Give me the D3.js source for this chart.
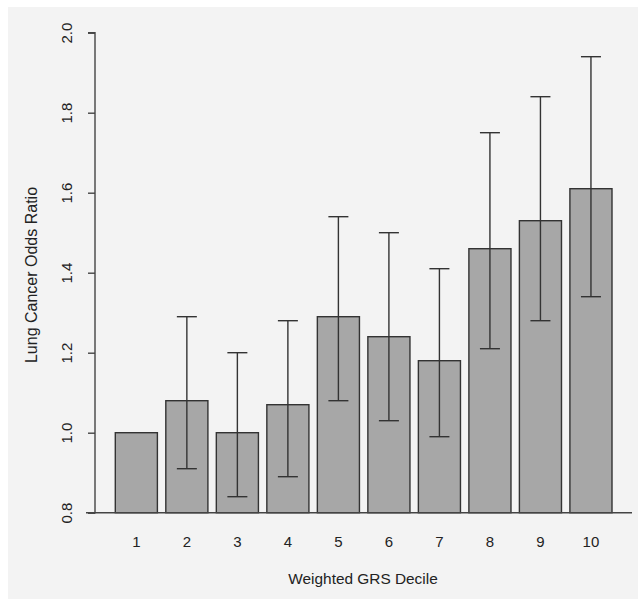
<!DOCTYPE html>
<html>
<head>
<meta charset="utf-8">
<script src="https://cdn.jsdelivr.net/npm/d3@7"></script>
<style>
  html, body { margin: 0; padding: 0; background: #ffffff; }
  svg { display: block; }
  text { font-family: "Liberation Sans", Arial, sans-serif; fill: #222; }
</style>
</head>
<body>
<svg id="chart" width="638" height="599"></svg>
<script>
const categories = ["1", "2", "3", "4", "5", "6", "7", "8", "9", "10"];
const oddsRatio = [1.00, 1.08, 1.00, 1.07, 1.29, 1.24, 1.18, 1.46, 1.53, 1.61];
const ciLower = [null, 0.91, 0.84, 0.89, 1.08, 1.03, 0.99, 1.21, 1.28, 1.34];
const ciUpper = [null, 1.29, 1.20, 1.28, 1.54, 1.50, 1.41, 1.75, 1.84, 1.94];
const yTicks = [0.8, 1.0, 1.2, 1.4, 1.6, 1.8, 2.0];
const xTitle = "Weighted GRS Decile";
const yTitle = "Lung Cancer Odds Ratio";

const svg = d3.select("#chart");
svg.append("rect").attr("x", 8).attr("y", 7).attr("width", 630).attr("height", 592).attr("fill", "#f3f3f3");

const y = d3.scaleLinear().domain([0.8, 2.0]).range([512.7, 32.7]);
const x = d3.scaleBand().domain(categories).range([115.3, 612]).paddingInner(1 / 6).paddingOuter(0);

const data = categories.map((c, i) => ({ c, v: oddsRatio[i], lo: ciLower[i], hi: ciUpper[i] }));

// bars
svg.append("g").selectAll("rect").data(data).join("rect")
  .attr("x", d => x(d.c))
  .attr("y", d => y(d.v))
  .attr("width", x.bandwidth())
  .attr("height", d => y(0.8) - y(d.v))
  .attr("fill", "#a7a7a7")
  .attr("stroke", "#333")
  .attr("stroke-width", 1.4);

// baseline
svg.append("line").attr("x1", 86).attr("x2", 632).attr("y1", y(0.8)).attr("y2", y(0.8))
  .attr("stroke", "#444").attr("stroke-width", 1.4);

// error bars
const eb = svg.append("g").attr("stroke", "#333").attr("stroke-width", 1.4);
const ebData = data.filter(d => d.lo !== null);
eb.selectAll("line.v").data(ebData).join("line").attr("class", "v")
  .attr("x1", d => x(d.c) + x.bandwidth() / 2).attr("x2", d => x(d.c) + x.bandwidth() / 2)
  .attr("y1", d => y(d.lo)).attr("y2", d => y(d.hi));
eb.selectAll("line.t").data(ebData).join("line").attr("class", "t")
  .attr("x1", d => x(d.c) + x.bandwidth() / 2 - 10).attr("x2", d => x(d.c) + x.bandwidth() / 2 + 10)
  .attr("y1", d => y(d.hi)).attr("y2", d => y(d.hi));
eb.selectAll("line.b").data(ebData).join("line").attr("class", "b")
  .attr("x1", d => x(d.c) + x.bandwidth() / 2 - 10).attr("x2", d => x(d.c) + x.bandwidth() / 2 + 10)
  .attr("y1", d => y(d.lo)).attr("y2", d => y(d.lo));

// y axis
const yAxis = d3.axisLeft(y).tickValues(yTicks).tickFormat(d3.format(".1f")).tickSize(7).tickPadding(12);
const gy = svg.append("g").attr("transform", "translate(95,0)").call(yAxis);
gy.select(".domain").attr("stroke", "#444").attr("stroke-width", 1.4).attr("d", `M-7,${y(2.0)}H0V${y(0.8)}H-7`);
gy.selectAll(".tick line").attr("stroke", "#444").attr("stroke-width", 1.4);
gy.selectAll(".tick text")
  .attr("font-size", 15).attr("font-family", "Liberation Sans, Arial, sans-serif").attr("fill", "#222")
  .attr("text-anchor", "middle").attr("dy", null).attr("x", null)
  .attr("transform", "translate(-27,0) rotate(-90)").attr("dominant-baseline", "middle");

// x labels
const xAxis = d3.axisBottom(x).tickSize(0).tickPadding(0);
const gx = svg.append("g").attr("transform", `translate(0,${y(0.8)})`).call(xAxis);
gx.select(".domain").remove();
gx.selectAll(".tick text").attr("font-size", 15).attr("fill", "#222")
  .attr("font-family", "Liberation Sans, Arial, sans-serif")
  .attr("y", 29).attr("dy", "0.35em");

// titles
svg.append("text").attr("x", 363).attr("y", 579).attr("dy", "0.35em").attr("text-anchor", "middle")
  .attr("font-size", 15.4).text(xTitle);
svg.append("text").attr("transform", "translate(31,275) rotate(-90)").attr("dy", "0.35em")
  .attr("text-anchor", "middle").attr("font-size", 16).text(yTitle);
</script>
</body>
</html>
